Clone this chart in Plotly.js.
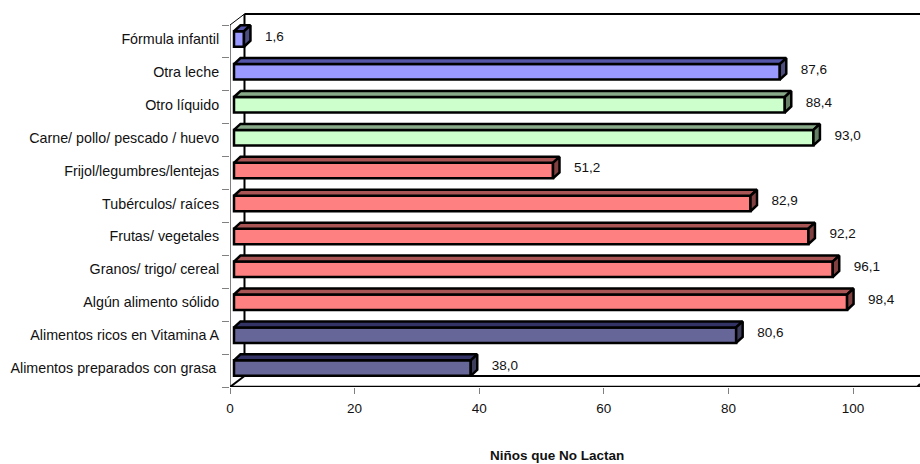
<!DOCTYPE html>
<html><head><meta charset="utf-8">
<script src="https://cdn.plot.ly/plotly-3.0.1.min.js"></script>
<style>html,body{margin:0;padding:0;background:#fff}</style></head>
<body><div id="chart" style="width:920px;height:464px"></div>
<script>
const categories = ["Alimentos preparados con grasa\u2009","Alimentos ricos en Vitamina A","Algún alimento sólido","Granos/ trigo/ cereal","Frutas/ vegetales","Tubérculos/ raíces","Frijol/legumbres/lentejas","Carne/ pollo/ pescado / huevo","Otro líquido","Otra leche","Fórmula infantil"];
const values = [38.0,80.6,98.4,96.1,92.2,82.9,51.2,93.0,88.4,87.6,1.6];
const groups = ["navy","navy","red","red","red","red","red","green","green","blue","blue"];
const front = {navy:"#666699",red:"#FF8080",green:"#CCFFCC",blue:"#9999FF"};
const topFace = {navy:"#333366",red:"#AA5555",green:"#88AA88",blue:"#5555AA"};
const sideFace = {navy:"#3D3D5C",red:"#804040",green:"#668066",blue:"#4D4D80"};
const xTicks = [0,20,40,60,80,100];
const FONT = "Liberation Sans, Arial, sans-serif";

const pxX = 6.235, pxY = 32.909;
const L = 229.5, R = 920, T = 10, B = 387;
const xMax = (R-L)/pxX, yMin = -0.5, yMax = yMin + (B-T)/pxY;
const dx = v => v/pxX, dy = v => v/pxY;
const base = dx(4), depthX = dx(6.5), depthY = dy(6);
const barW = 15.5/pxY, barOff = 2.5/pxY - barW/2;
const idx = categories.map((_,i)=>i);

const traces = [];
Object.keys(front).forEach(g=>{
  const ii = idx.filter(i=>groups[i]===g);
  traces.push({type:"bar",orientation:"h",y:ii,x:ii.map(i=>values[i]),base:base,width:barW,offset:barOff,
    marker:{color:front[g],line:{color:"#000",width:2.5}},hoverinfo:"skip",showlegend:false});
  const tx=[],ty=[],sx=[],sy=[];
  ii.forEach(i=>{
    const x0=base,x1=base+values[i],yb=i+barOff,yt=yb+barW;
    tx.push(x0,x0+depthX,x1+depthX,x1,x0,null);
    ty.push(yt,yt+depthY,yt+depthY,yt,yt,null);
    sx.push(x1,x1+depthX,x1+depthX,x1,x1,null);
    sy.push(yb,yb+depthY,yt+depthY,yt,yb,null);
  });
  const mk=(x,y,c)=>({type:"scatter",mode:"lines",x,y,fill:"toself",fillcolor:c,line:{color:"#000",width:2.5},hoverinfo:"skip",showlegend:false,connectgaps:false});
  traces.push(mk(tx,ty,topFace[g]));
  traces.push(mk(sx,sy,sideFace[g]));
});
traces.push({type:"scatter",mode:"text",x:values.map(v=>base+v+dx(21)),y:idx.map(i=>i+dy(4)),
  text:values.map(v=>v.toFixed(1).replace(".",",")),textposition:"middle right",
  textfont:{family:FONT,size:13.5,color:"#111"},hoverinfo:"skip",showlegend:false,cliponaxis:false});

const ox=dx(14.5), oy=dy(11), topY=10.5;
const ln=(x0,y0,x1,y1,w,c)=>({type:"line",xref:"x",yref:"y",x0,y0,x1,y1,layer:"below",line:{color:c||"#000",width:w}});
const shapes=[
  ln(ox,topY+oy,xMax,topY+oy,2),
  ln(ox,yMin+oy,ox,topY+oy,2),
  ln(ox,yMin+oy,xMax,yMin+oy,2),
  ln(0,yMin,0,topY,1),
  ln(0,topY,ox,topY+oy,1),
  ln(0,yMin,ox,yMin+oy,2),
  ln(0,yMin,xMax,yMin,2.5),
  ln(110.3,yMin,xMax,yMin+dy(3),2)
];
const layout={
  width:920,height:464,margin:{l:L,r:0,t:T,b:464-B,pad:0},
  paper_bgcolor:"#fff",plot_bgcolor:"#fff",barmode:"overlay",showlegend:false,
  font:{family:FONT,size:12,color:"#111"},
  xaxis:{range:[0,xMax],tickvals:xTicks,ticktext:xTicks.map(String),ticks:"outside",ticklen:6,tickcolor:"#808080",tickwidth:1,showgrid:false,zeroline:false,showline:false,tickfont:{size:13.5},ticklabelstandoff:3},
  yaxis:{range:[yMin,yMax],tickvals:idx.map(i=>i+dy(2.5)),ticktext:categories,ticks:"outside",ticklen:7,tickcolor:"rgba(0,0,0,0)",showgrid:false,zeroline:false,showline:false,tickfont:{size:14.3},
    minor:{tickvals:idx.map(i=>i-0.5).concat([topY]),ticks:"outside",ticklen:7,tickcolor:"#808080",tickwidth:1,showgrid:false}},
  shapes,
  annotations:[{xref:"x",yref:"paper",x:52.5,y:0,yshift:-68,yanchor:"middle",showarrow:false,text:"<b>Niños que No Lactan</b>",font:{size:13.5,color:"#111"}}]
};
Plotly.newPlot("chart",traces,layout,{displayModeBar:false,staticPlot:true});
</script></body></html>
